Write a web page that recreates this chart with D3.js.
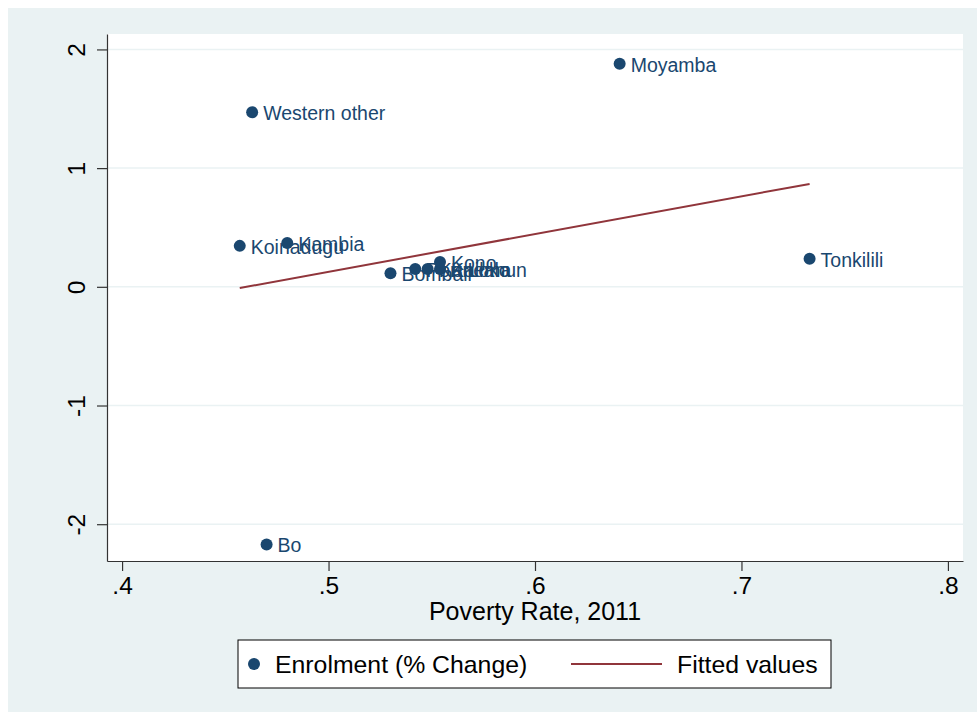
<!DOCTYPE html>
<html>
<head>
<meta charset="utf-8">
<script src="https://cdn.jsdelivr.net/npm/d3@7"></script>
<style>
  html, body { margin: 0; padding: 0; background: #ffffff; }
  svg { display: block; font-family: "Liberation Sans", Arial, Helvetica, sans-serif; }
</style>
</head>
<body>
<svg id="chart" width="977" height="715"></svg>
<script>
// District-level data: poverty rate (2011) against change in enrolment
const districts   = ["Moyamba", "Western other", "Koinadugu", "Kambia", "Tonkilili", "Bombali",
                     "Port Loko", "Kenema", "Kailahun", "Kono", "Bo"];
const povertyRate = [0.641, 0.463, 0.457, 0.480, 0.733, 0.530, 0.542, 0.548, 0.554, 0.554, 0.470];
const enrolChange = [1.88, 1.47, 0.345, 0.37, 0.236, 0.115, 0.15, 0.15, 0.15, 0.21, -2.17];

// Linear fit endpoints (fitted values)
const fitX = [0.457, 0.733];
const fitY = [-0.01, 0.867];

// Axis ticks
const xTicks = [0.4, 0.5, 0.6, 0.7, 0.8];
const xTickLabels = [".4", ".5", ".6", ".7", ".8"];
const yTicks = [-2, -1, 0, 1, 2];
const yTickLabels = ["-2", "-1", "0", "1", "2"];

const xTitle = "Poverty Rate, 2011";
const legendLabels = ["Enrolment (% Change)", "Fitted values"];

const navy = "#1a476f";
const maroon = "#90353b";
const bg = "#eaf2f3";

const svg = d3.select("#chart");

// Outer graph region
svg.append("rect").attr("x", 8).attr("y", 8).attr("width", 969).attr("height", 704).attr("fill", bg);

const plot = { left: 107, right: 963, top: 34, bottom: 561 };

// Plot region
svg.append("rect")
  .attr("x", plot.left).attr("y", plot.top)
  .attr("width", plot.right - plot.left).attr("height", plot.bottom - plot.top)
  .attr("fill", "#ffffff");

const x = d3.scaleLinear().domain([0.3927, 0.8073]).range([plot.left, plot.right]);
const y = d3.scaleLinear().domain([-2.31, 2.13]).range([plot.bottom, plot.top]);

// Horizontal grid lines
svg.append("g").selectAll("line").data(yTicks).join("line")
  .attr("x1", plot.left).attr("x2", plot.right)
  .attr("y1", d => y(d)).attr("y2", d => y(d))
  .attr("stroke", bg).attr("stroke-width", 1.5);

// X axis
const xAxis = d3.axisBottom(x)
  .tickValues(xTicks)
  .tickFormat((d, i) => xTickLabels[i])
  .tickSizeInner(10).tickSizeOuter(0).tickPadding(6);
const gx = svg.append("g").attr("transform", `translate(0,${plot.bottom})`).call(xAxis);
gx.select(".domain").attr("stroke", "#333").attr("stroke-width", 1.2);
gx.selectAll(".tick line").attr("stroke", "#333").attr("stroke-width", 1.2);
gx.selectAll(".tick text").attr("font-size", 24.5).attr("fill", "#000")
  .attr("font-family", "Liberation Sans, Arial, sans-serif");

// Y axis
const yAxis = d3.axisLeft(y)
  .tickValues(yTicks)
  .tickFormat((d, i) => yTickLabels[i])
  .tickSizeInner(10).tickSizeOuter(0).tickPadding(6);
const gy = svg.append("g").attr("transform", `translate(${plot.left},0)`).call(yAxis);
gy.select(".domain").attr("stroke", "#333").attr("stroke-width", 1.2);
gy.selectAll(".tick line").attr("stroke", "#333").attr("stroke-width", 1.2);
gy.selectAll(".tick text")
  .attr("font-size", 24.5).attr("fill", "#000")
  .attr("font-family", "Liberation Sans, Arial, sans-serif")
  .attr("x", null).attr("dy", null)
  .attr("text-anchor", "middle")
  .attr("dominant-baseline", "central")
  .attr("transform", "translate(-31,0) rotate(-90)");

// Axis title
svg.append("text")
  .attr("x", (x(0.4) + x(0.8)) / 2).attr("y", 620)
  .attr("text-anchor", "middle")
  .attr("font-size", 25).attr("fill", "#000")
  .text(xTitle);

// Data points
const pts = districts.map((d, i) => ({ name: d, px: povertyRate[i], py: enrolChange[i] }));

svg.append("g").selectAll("circle").data(pts).join("circle")
  .attr("cx", d => x(d.px)).attr("cy", d => y(d.py))
  .attr("r", 6).attr("fill", navy);

svg.append("g").selectAll("text").data(pts).join("text")
  .attr("x", d => x(d.px) + 11).attr("y", d => y(d.py) + 1)
  .attr("dominant-baseline", "central")
  .attr("font-size", 19.5).attr("fill", navy)
  .text(d => d.name);

// Fitted line
const fit = fitX.map((v, i) => [v, fitY[i]]);
svg.append("path")
  .attr("d", d3.line().x(d => x(d[0])).y(d => y(d[1]))(fit))
  .attr("fill", "none").attr("stroke", maroon).attr("stroke-width", 2);

// Legend
const lg = svg.append("g");
lg.append("rect").attr("x", 238).attr("y", 640).attr("width", 593).attr("height", 48)
  .attr("fill", "#fff").attr("stroke", "#000").attr("stroke-width", 1);
lg.append("circle").attr("cx", 254).attr("cy", 664).attr("r", 6).attr("fill", navy);
lg.append("text").attr("x", 275).attr("y", 664).attr("dominant-baseline", "central")
  .attr("font-size", 24.8).attr("fill", "#000").text(legendLabels[0]);
lg.append("line").attr("x1", 571).attr("x2", 662).attr("y1", 664).attr("y2", 664)
  .attr("stroke", maroon).attr("stroke-width", 2);
lg.append("text").attr("x", 677).attr("y", 664).attr("dominant-baseline", "central")
  .attr("font-size", 24.8).attr("fill", "#000").text(legendLabels[1]);
</script>
</body>
</html>
